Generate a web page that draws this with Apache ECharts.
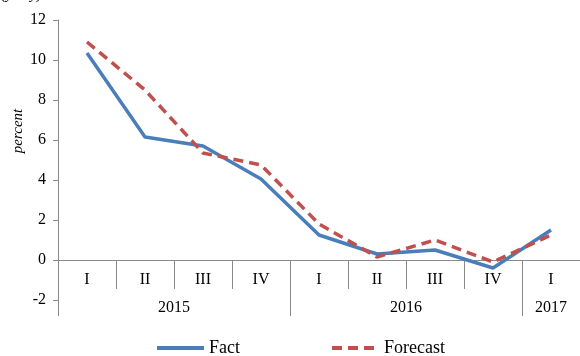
<!DOCTYPE html>
<html>
<head>
<meta charset="utf-8">
<script src="https://cdn.jsdelivr.net/npm/echarts@6/dist/echarts.min.js"></script>
<style>html,body{margin:0;padding:0;background:#fff}#c{width:580px;height:356px}</style>
</head>
<body>
<div id="c"></div>
<script>
var quarters = ["I", "II", "III", "IV", "I", "II", "III", "IV", "I"];
var years = ["2015", "2016", "2017"];
var yearCenters = [2, 6, 8.5];
var yearBounds = [0, 4, 8, 9];
var fact = [10.35, 6.15, 5.7, 4.05, 1.25, 0.3, 0.5, -0.4, 1.5];
var forecast = [10.9, 8.5, 5.35, 4.75, 1.8, 0.15, 1.0, -0.1, 1.25];

var font = "'Liberation Serif', 'Times New Roman', serif";
var axisColor = "#898989";
var catKeys = quarters.map(function (q, i) { return i + "-" + q; });

var chart = echarts.init(document.getElementById('c'));
chart.setOption({
  animation: false,
  textStyle: { fontFamily: font },
  grid: { left: 58, top: 20, width: 526, height: 280, containLabel: false },
  legend: {
    top: 334, left: 150, itemWidth: 47, itemHeight: 4, itemGap: 90,
    textStyle: { fontFamily: font, fontSize: 18, color: '#000' },
    itemStyle: { opacity: 0 },
    lineStyle: { width: 4 },
    data: ['Fact', 'Forecast']
  },
  graphic: [
    { type: 'text', left: 1, top: -12, style: { text: '(y-o-y)', font: 'italic 15px ' + font, fill: '#000' } },
    { type: 'text', x: 18, y: 131, rotation: Math.PI / 2, style: { text: 'percent', font: 'italic 15px ' + font, fill: '#000', align: 'center', verticalAlign: 'middle' } }
  ],
  xAxis: [
    {
      type: 'category', data: catKeys, boundaryGap: true,
      axisLine: { onZero: true, lineStyle: { color: axisColor, width: 1 } },
      axisTick: { show: true, interval: 0, length: 29, lineStyle: { color: axisColor } },
      axisLabel: { interval: 0, margin: -28, fontSize: 16, color: '#000', fontFamily: font,
        formatter: function (v) { return v.split('-')[1]; } },
      splitLine: { show: false }
    },
    {
      type: 'value', min: 0, max: 9, position: 'bottom',
      axisLine: { show: false, onZero: false },
      axisTick: { show: true, customValues: yearBounds, length: 16, lineStyle: { color: axisColor } },
      axisLabel: { show: true, customValues: yearCenters, margin: 0, fontSize: 16, color: '#000', fontFamily: font,
        formatter: function (v) { var i = yearCenters.indexOf(v); return i >= 0 ? years[i] : ''; } },
      splitLine: { show: false }
    },
    {
      type: 'value', min: 0, max: 9, position: 'bottom',
      axisLine: { show: false, onZero: false },
      axisTick: { show: true, inside: true, customValues: yearBounds, length: 40, lineStyle: { color: axisColor } },
      axisLabel: { show: false },
      splitLine: { show: false }
    }
  ],
  yAxis: {
    type: 'value', min: -2, max: 12, interval: 2,
    axisLine: { show: true, lineStyle: { color: axisColor } },
    axisTick: { show: true, length: 5, lineStyle: { color: axisColor } },
    axisLabel: { margin: 12, fontSize: 16, color: '#000', fontFamily: font },
    splitLine: { show: false }
  },
  series: [
    { name: 'Fact', type: 'line', xAxisIndex: 0, data: fact, symbol: 'none',
      lineStyle: { color: '#4A7EBB', width: 3.5 }, itemStyle: { color: '#4A7EBB' } },
    { name: 'Forecast', type: 'line', xAxisIndex: 0, data: forecast, symbol: 'none',
      lineStyle: { color: '#C0504D', width: 3.5, type: [10, 6] }, itemStyle: { color: '#C0504D' } }
  ]
});
</script>
</body>
</html>
